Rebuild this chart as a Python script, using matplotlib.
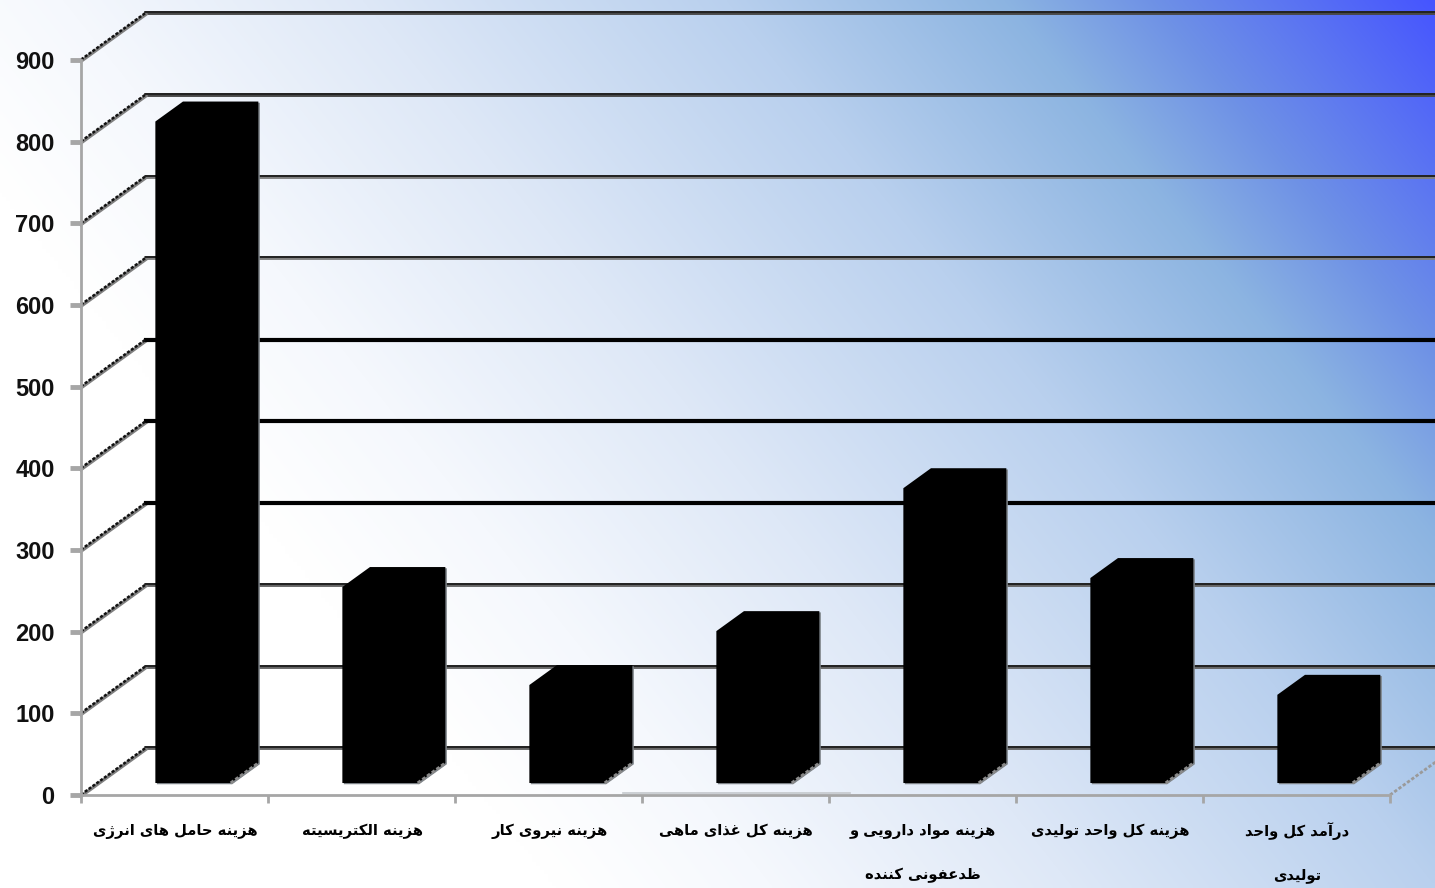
import numpy as np
import matplotlib
matplotlib.use("Agg")
import matplotlib.pyplot as plt

categories = [
    "هزینه حامل های انرژی",
    "هزینه الکتریسیته",
    "هزینه نیروی کار",
    "هزینه کل غذای ماهی",
    "هزینه مواد دارویی و\nضدعفونی کننده",
    "هزینه کل واحد تولیدی",
    "درآمد کل واحد\nتولیدی",
]
values = [810, 240, 120, 186, 361, 251, 108]
y_ticks = [0, 100, 200, 300, 400, 500, 600, 700, 800, 900]

# isolated, final, initial, medial (two forms only = does not join forward)
FORMS = {
    "ه": (0xFEE9, 0xFEEA, 0xFEEB, 0xFEEC), "ز": (0xFEAF, 0xFEB0),
    "ی": (0xFBFC, 0xFBFD, 0xFBFE, 0xFBFF), "ن": (0xFEE5, 0xFEE6, 0xFEE7, 0xFEE8),
    "ح": (0xFEA1, 0xFEA2, 0xFEA3, 0xFEA4), "ا": (0xFE8D, 0xFE8E),
    "م": (0xFEE1, 0xFEE2, 0xFEE3, 0xFEE4), "ل": (0xFEDD, 0xFEDE, 0xFEDF, 0xFEE0),
    "ر": (0xFEAD, 0xFEAE), "ژ": (0xFB8A, 0xFB8B), "و": (0xFEED, 0xFEEE),
    "ک": (0xFB8E, 0xFB8F, 0xFB90, 0xFB91), "ت": (0xFE95, 0xFE96, 0xFE97, 0xFE98),
    "س": (0xFEB1, 0xFEB2, 0xFEB3, 0xFEB4), "غ": (0xFECD, 0xFECE, 0xFECF, 0xFED0),
    "ذ": (0xFEAB, 0xFEAC), "د": (0xFEA9, 0xFEAA),
    "ض": (0xFEC5, 0xFEC6, 0xFEC7, 0xFEC8), "ع": (0xFEC9, 0xFECA, 0xFECB, 0xFECC),
    "ف": (0xFED1, 0xFED2, 0xFED3, 0xFED4), "آ": (0xFE81, 0xFE82),
}


def shape_line(line):
    out = []
    for i, ch in enumerate(line):
        if ch not in FORMS:
            out.append(ch)
            continue
        prev = line[i - 1] if i > 0 else " "
        nxt = line[i + 1] if i + 1 < len(line) else " "
        joins_back = prev in FORMS and len(FORMS[prev]) == 4
        joins_next = nxt in FORMS and len(FORMS[ch]) == 4
        idx = {(0, 0): 0, (1, 0): 1, (0, 1): 2, (1, 1): 3}[(joins_back, joins_next)]
        out.append(chr(FORMS[ch][idx]))
    return "".join(out[::-1])


W, H = 1435, 888
fig = plt.figure(figsize=(W / 100, H / 100), dpi=100)

# background gradient, white lower left to blue upper right
bg = fig.add_axes([0, 0, 1, 1], zorder=0)
xx, yy = np.meshgrid(np.linspace(0, W, 360), np.linspace(0, H, 222))
t = (xx + 0.8 * (H - yy)) / (W + 0.8 * H)
stops = [0, 0.26, 0.36, 0.5, 0.67, 0.8, 0.87, 1]
reds = [255, 255, 245, 222, 185, 140, 110, 70]
greens = [255, 255, 248, 232, 208, 180, 145, 85]
blues = [255, 255, 253, 247, 238, 225, 230, 255]
img = np.dstack([np.interp(t, stops, c) / 255 for c in (reds, greens, blues)])
bg.imshow(img, aspect="auto", extent=(0, W, H, 0), interpolation="bilinear")
bg.axis("off")

ax = fig.add_axes([81 / W, 1 - 795 / H, (1390 - 81) / W, 735 / H], zorder=1)
ax.patch.set_alpha(0)
ax.set_xlim(0, 7)
ax.set_ylim(0, 900)

# oblique projection of the 3d box, d = 0 front plane, d = 1 back wall
DX = 65 / 187
DY = 47 / (735 / 900)


def proj(x, v, d):
    return x + d * DX, v + d * DY


# walls and gridlines
for v in y_ticks:
    x0, y0 = proj(0, v, 1)
    x1, y1 = proj(7, v, 1)
    if v in (300, 400, 500):
        ax.plot([x0, x1], [y0, y1], color="black", lw=3.0, zorder=1.1, clip_on=False)
    else:
        under = {900: "#484848", 800: "#484848", 700: "#808080", 600: "#808080"}.get(v, "#666666")
        ax.plot([x0, x1], [y0 - 0.6, y1 - 0.6], color=under, lw=2.8, zorder=1, clip_on=False)
        ax.plot([x0, x1], [y0 + 0.9, y1 + 0.9], color="#222222", lw=1.4, zorder=1.1, clip_on=False)
    ax.plot([0, x0], [v - 1.5, y0 - 1.5], color="#808080", lw=2.4, zorder=1, clip_on=False)
    ax.plot([0, x0], [v + 0.5, y0 + 0.5], color="#111111", lw=1.8, ls=(0, (1.2, 0.7)), zorder=1.1, clip_on=False)

# floor edge on the right, runs off the picture
x0, y0 = proj(7, 0, 0)
x1, y1 = proj(7, 0, 1)
ax.plot([x0, x1], [y0, y1], color="#9a9a9a", lw=2.0, ls=(0, (1.2, 0.7)), zorder=1, clip_on=False)

# faint leftover line just over the axis
ax.plot([2.9, 4.11], [2.5, 2.5], color="#c4c8cc", lw=1.2, zorder=1, clip_on=False)

# bars
BAR_L, BAR_R = 0.309, 0.712
D0, D1 = 0.255, 0.68
for i, val in enumerate(values):
    left, right = i + BAR_L, i + BAR_R
    corners = [
        proj(left, 0, D0), proj(left, val, D0), proj(left, val, D1),
        proj(right, val, D1), proj(right, 0, D1), proj(right, 0, D0),
    ]
    xs, ys = zip(*corners)
    # thin shadow on the right side
    ax.fill(np.array(xs) + 0.008, np.array(ys) - 1.5, color="#7d8388", lw=0, zorder=2)
    ax.fill(xs, ys, color="black", lw=0, zorder=3)
    ax.plot([xs[5], xs[4]], [ys[5], ys[4]], color="#8a8a8a", lw=2.2,
            ls=(0, (1.2, 0.7)), zorder=4)

for side in ("top", "right"):
    ax.spines[side].set_visible(False)
for side in ("left", "bottom"):
    ax.spines[side].set_color("#a6a6a6")
    ax.spines[side].set_linewidth(2.0)
    ax.spines[side].set_zorder(5)

ax.set_yticks(y_ticks)
ax.set_yticklabels(y_ticks, fontfamily="Liberation Sans", fontsize=17, fontweight="bold", color="#111111")
ax.tick_params(axis="y", length=8, width=3.5, color="#a6a6a6", pad=11)

ax.set_xticks(range(8))
ax.set_xticklabels([])
ax.tick_params(axis="x", length=6, width=2, color="#a6a6a6")

# category names, line by line so wrapped ones keep the same first baseline
for i, name in enumerate(categories):
    for j, line in enumerate(name.split("\n")):
        ax.annotate(shape_line(line), xy=(i + 0.5, 0), xycoords=("data", "axes fraction"),
                    xytext=(0.5, -(36 + 44 * j) * 0.72), textcoords="offset points",
                    ha="center", va="center", fontfamily="DejaVu Sans", fontsize=10.6,
                    fontweight="bold", color="black")

fig.savefig("out.png", dpi=100)
plt.close(fig)
